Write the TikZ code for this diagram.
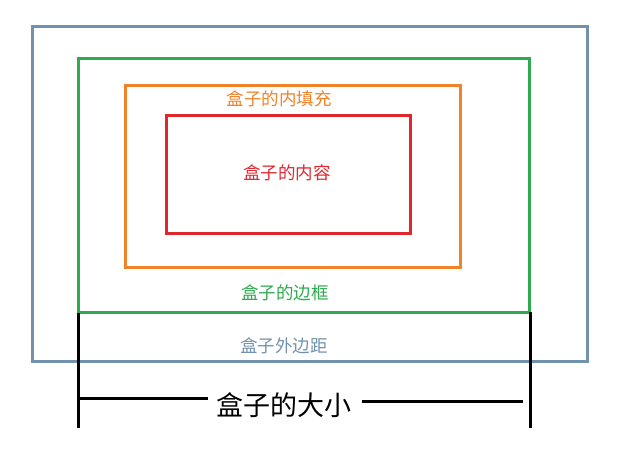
\documentclass[tikz,border=0pt]{standalone}
\usepackage{fontspec}
\newfontfamily\cjk{Noto Sans CJK SC}
\definecolor{cmargin}{HTML}{7291AC}
\definecolor{cborder}{HTML}{2FAA4F}
\definecolor{cpad}{HTML}{F0822A}
\definecolor{ccontent}{HTML}{E2262E}
\begin{document}
\begin{tikzpicture}[x=1pt,y=-1pt,
  boxline/.style={line width=3pt},
  lbl/.style={font=\cjk\fontsize{17.5}{19}\selectfont, inner sep=0pt},
  dimline/.style={line width=3pt, black}]
\useasboundingbox (0,0) rectangle (620,450);
\draw[boxline, cmargin] (32,26) rectangle (587,361);
\draw[boxline, cborder] (78,58) rectangle (529,312);
\draw[boxline, cpad] (125,85) rectangle (460,267);
\draw[boxline, ccontent] (166,115) rectangle (410,233);
\node[lbl, text=cpad] (lpad) at (279,99) {盒子的内填充};
\node[lbl, text=ccontent] (lcontent) at (287,173) {盒子的内容};
\node[lbl, text=cborder] (lborder) at (285,293) {盒子的边框};
\node[lbl, text=cmargin] (lmargin) at (284,346) {盒子外边距};
\coordinate (lt) at (78,313);
\coordinate (lb) at (78,428);
\coordinate (rt) at (530,312);
\coordinate (rb) at (530,428);
\draw[dimline] (lt) -- (lb);
\draw[dimline] (rt) -- (rb);
\node[font=\cjk\fontsize{27}{30}\selectfont, inner sep=0pt] (size) at (284,405) {盒子的大小};
\coordinate (hl) at (78,398);
\coordinate (hlr) at (208,398);
\coordinate (hr) at (362,401);
\coordinate (hrr) at (523,401);
\draw[dimline] (hl) -- (hlr);
\draw[dimline] (hr) -- (hrr);
\end{tikzpicture}
\end{document}
